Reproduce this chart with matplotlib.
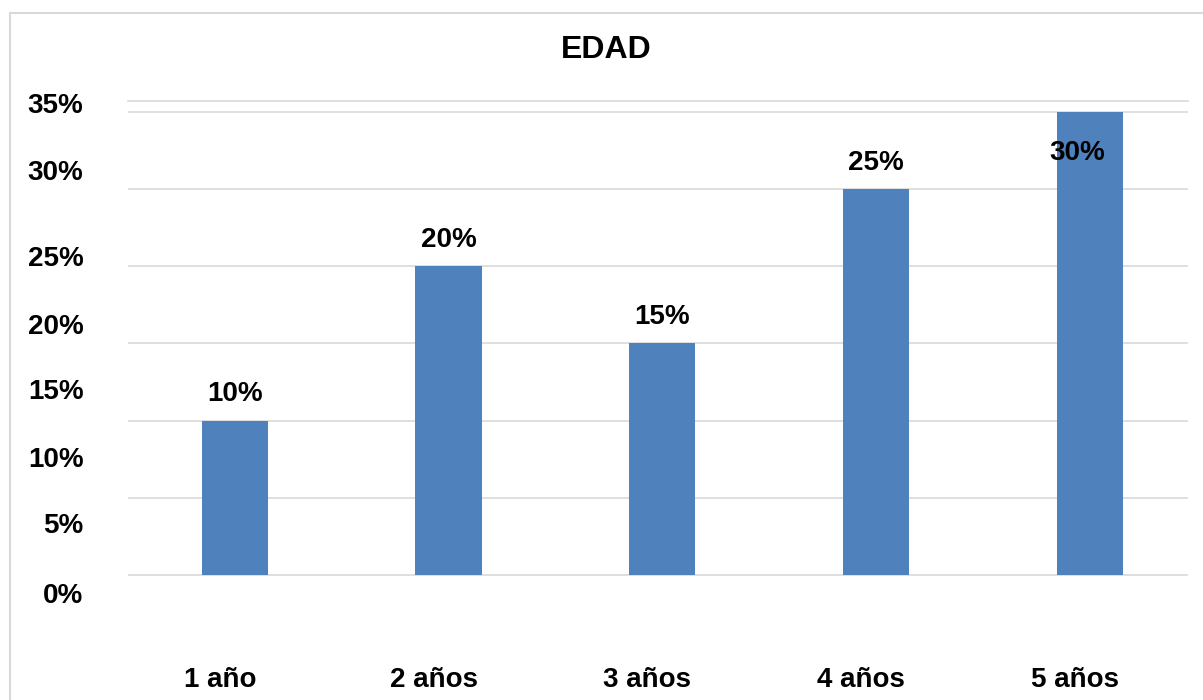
import matplotlib.pyplot as plt
from matplotlib.patches import Rectangle
from matplotlib.transforms import ScaledTranslation

# datos
categorias = ["1 año", "2 años", "3 años", "4 años", "5 años"]
valores = [0.10, 0.20, 0.15, 0.25, 0.30]
etiquetas_barras = ["10%", "20%", "15%", "25%", "30%"]

# etiquetas del eje y (desplazadas como en el original)
etiquetas_y = ["0%", "5%", "10%", "15%", "20%", "25%", "30%", "35%"]
pos_etiquetas_y = [-0.0116, 0.0335, 0.0768, 0.1206, 0.1626, 0.2065, 0.2626, 0.3058]
lineas_grid = [0, 0.05, 0.10, 0.15, 0.20, 0.25, 0.30]

azul = "#4F81BD"
gris = "#D9D9D9"

plt.rcParams["font.family"] = ["Liberation Sans", "DejaVu Sans"]
plt.rcParams["font.weight"] = "bold"

fig = plt.figure(figsize=(12.03, 7), dpi=100)

# marco exterior
fig.patches.append(Rectangle((10 / 1203, -0.05), 1.2, 1 - 13 / 700 + 0.05,
                             transform=fig.transFigure, fill=False,
                             edgecolor=gris, linewidth=1.5))

ax = fig.add_axes([128 / 1203, 1 - 606 / 700, 1060 / 1203, 505 / 700])

x = range(len(categorias))
ax.bar(x, valores, width=0.31, color=azul, zorder=3)

# etiquetas de las barras
desplaz = [(0, 19), (0, 19), (0, 19), (0, 19), (-9, -30)]
for i, (v, t) in enumerate(zip(valores, etiquetas_barras)):
    ax.annotate(t, (i, v), xytext=desplaz[i], textcoords="offset points",
                ha="center", va="center", fontsize=20, fontweight="bold", zorder=4)

ax.set_xlim(-0.5, 4.46)
ax.set_ylim(-0.02, 0.307)

# lineas de cuadricula
for g in lineas_grid:
    ax.axhline(g, color=gris, linewidth=1.2, zorder=1)

ax.set_yticks([])
ax.set_yticks(pos_etiquetas_y, etiquetas_y, minor=True)
ax.tick_params(axis="y", which="minor", length=0, pad=32, labelsize=20)

ax.set_xticks(list(x), categorias)
ax.tick_params(axis="x", length=0, pad=44, labelsize=20)
for lbl in ax.get_xticklabels():
    lbl.set_transform(lbl.get_transform() + ScaledTranslation(-15 / 100, 0, fig.dpi_scale_trans))

for s in ["left", "right", "bottom"]:
    ax.spines[s].set_visible(False)
ax.spines["top"].set_color(gris)
ax.spines["top"].set_linewidth(1.2)

fig.text(606 / 1203, 1 - 50 / 700, "EDAD", ha="center", va="center",
         fontsize=23, fontweight="bold")

fig.savefig("out.png", dpi=100)
